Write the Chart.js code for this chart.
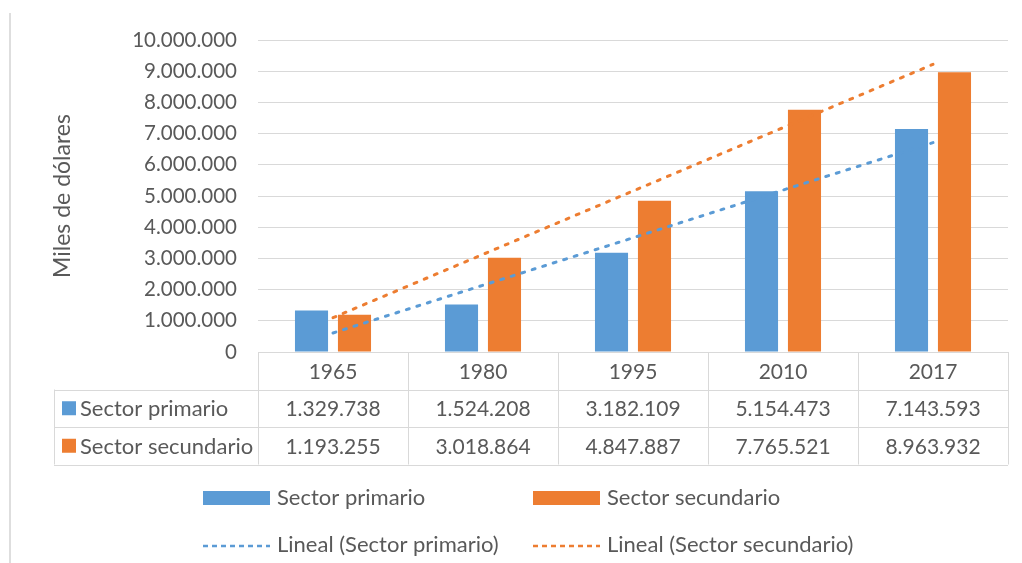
<!DOCTYPE html>
<html>
<head>
<meta charset="utf-8">
<script src="https://cdn.jsdelivr.net/npm/chart.js@4.4.1/dist/chart.umd.min.js"></script>
<style>
html, body { margin: 0; padding: 0; background: #fff; }
#wrap { position: relative; width: 1022px; height: 563px; }
#edge { position: absolute; left: 9px; top: 13px; bottom: 0; width: 2px; background: #dedede; }
canvas { position: absolute; left: 0; top: 0; }
</style>
</head>
<body>
<div id="wrap"><div id="edge"></div><canvas id="c" width="1022" height="563"></canvas></div>
<script>
const years = ['1965', '1980', '1995', '2010', '2017'];
const sectorPrimario = [1329738, 1524208, 3182109, 5154473, 7143593];
const sectorSecundario = [1193255, 3018864, 4847887, 7765521, 8963932];
// lineas de tendencia
const linealPrimario = [610000, 2140000, 3660000, 5190000, 6710000];
const linealSecundario = [1100000, 3130000, 5160000, 7190000, 9220000];

const AZUL = '#5b9bd5';
const NARANJA = '#ed7d31';
const GRIS = '#595959';
const FUENTE = 'Lato, "Open Sans", sans-serif';

const miles = v => String(Math.round(v)).replace(/\B(?=(\d{3})+(?!\d))/g, '.');

// tabla de datos bajo el eje
const tablaPlugin = {
    id: 'tabla',
    afterDraw: (chart) => {
        const ctx = chart.ctx;
        const x = chart.scales.x;
        const top = chart.chartArea.bottom;
        const rowH = 37.5;
        const left = 54;
        const colW = x.width / years.length;
        const bars = chart.data.datasets.filter(d => d.type === 'bar');

        const line = (x1, y1, x2, y2) => {
            ctx.beginPath();
            ctx.moveTo(x1, y1);
            ctx.lineTo(x2, y2);
            ctx.stroke();
        };

        ctx.save();
        ctx.strokeStyle = '#d9d9d9';
        ctx.lineWidth = 1;
        for (let i = 0; i <= years.length; i++) {
            const px = Math.round(x.left + i * colW) + 0.5;
            line(px, top, px, top + 3 * rowH);
        }
        for (let r = 1; r <= 3; r++) {
            const py = Math.round(top + r * rowH) + 0.5;
            line(left, py, x.right, py);
        }
        line(left + 0.5, top + rowH, left + 0.5, top + 3 * rowH);

        ctx.fillStyle = GRIS;
        ctx.textBaseline = 'middle';
        ctx.textAlign = 'center';
        ctx.font = '21px ' + FUENTE;
        years.forEach((y, i) => {
            ctx.fillText(y, x.getPixelForValue(i), top + rowH / 2 + 1);
        });
        bars.forEach((ds, r) => {
            const cy = top + (r + 1.5) * rowH + 1;
            ctx.font = '21px ' + FUENTE;
            ds.data.forEach((v, i) => {
                ctx.textAlign = 'center';
                ctx.fillStyle = GRIS;
                ctx.fillText(miles(v), x.getPixelForValue(i), cy);
            });
            ctx.fillStyle = ds.backgroundColor;
            ctx.fillRect(62, cy - 8, 14, 14);
            ctx.fillStyle = GRIS;
            ctx.textAlign = 'left';
            ctx.font = '22px ' + FUENTE;
            ctx.fillText(ds.label, 80, cy);
        });
        ctx.restore();
    }
};

// leyenda en dos columnas como en Excel
const leyendaPlugin = {
    id: 'leyenda',
    afterDraw: (chart) => {
        const ctx = chart.ctx;
        const cols = [203, 533];
        const rows = [498, 545];
        const orden = [0, 1, 2, 3];
        ctx.save();
        ctx.font = '22px ' + FUENTE;
        ctx.textBaseline = 'middle';
        ctx.textAlign = 'left';
        orden.forEach((idx, k) => {
            const ds = chart.data.datasets[idx];
            const lx = cols[k % 2];
            const ly = rows[Math.floor(k / 2)];
            if (ds.type === 'bar') {
                ctx.fillStyle = ds.backgroundColor;
                ctx.fillRect(lx, ly - 7, 67, 14);
            } else {
                ctx.strokeStyle = ds.borderColor;
                ctx.lineWidth = 2.5;
                ctx.setLineDash([5, 4]);
                ctx.beginPath();
                ctx.moveTo(lx, ly + 1);
                ctx.lineTo(lx + 67, ly + 1);
                ctx.stroke();
                ctx.setLineDash([]);
            }
            ctx.fillStyle = GRIS;
            ctx.fillText(ds.label, lx + 74, ly);
        });
        ctx.restore();
    }
};

new Chart(document.getElementById('c'), {
    data: {
        labels: years,
        datasets: [
            { type: 'bar', label: 'Sector primario', data: sectorPrimario, backgroundColor: AZUL, order: 2 },
            { type: 'bar', label: 'Sector secundario', data: sectorSecundario, backgroundColor: NARANJA, order: 2 },
            {
                type: 'line', label: 'Lineal (Sector primario)', data: linealPrimario,
                borderColor: AZUL, borderWidth: 3, borderDash: [3, 8], borderCapStyle: 'round',
                pointRadius: 0, fill: false, order: 1
            },
            {
                type: 'line', label: 'Lineal (Sector secundario)', data: linealSecundario,
                borderColor: NARANJA, borderWidth: 3, borderDash: [3, 8], borderCapStyle: 'round',
                pointRadius: 0, fill: false, order: 0
            }
        ]
    },
    options: {
        responsive: false,
        animation: false,
        layout: { padding: { top: 40, right: 14, bottom: 211, left: 0 } },
        datasets: {
            bar: { categoryPercentage: 0.573, barPercentage: 0.77 }
        },
        scales: {
            x: {
                display: false
            },
            y: {
                min: 0,
                max: 10000000,
                afterFit: s => { s.width = 258; },
                border: { display: false },
                grid: { color: '#d9d9d9', drawTicks: false, lineWidth: 1 },
                ticks: {
                    stepSize: 1000000,
                    padding: 21,
                    color: GRIS,
                    font: { family: FUENTE, size: 20.5 },
                    callback: v => miles(v)
                },
                title: {
                    display: true,
                    text: 'Miles de dólares',
                    color: GRIS,
                    font: { family: FUENTE, size: 23 },
                    padding: { top: 49, bottom: 0 }
                }
            }
        },
        plugins: {
            legend: { display: false },
            tooltip: { enabled: false }
        }
    },
    plugins: [tablaPlugin, leyendaPlugin]
});
</script>
</body>
</html>
